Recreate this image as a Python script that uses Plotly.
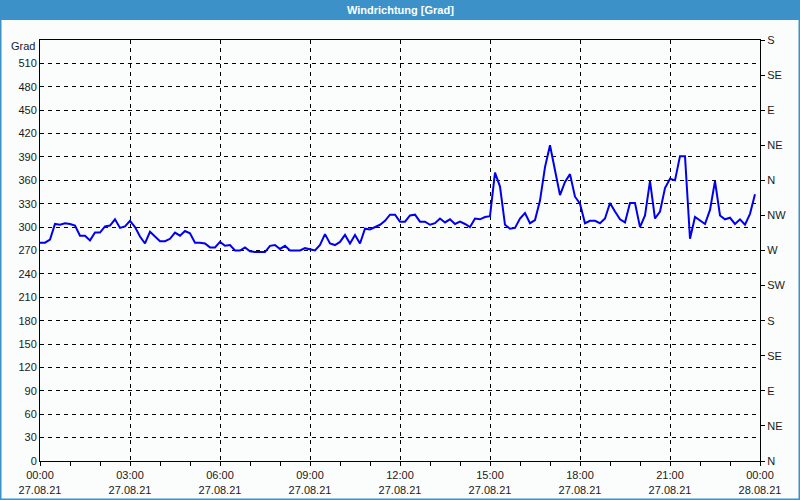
import plotly.graph_objects as go
import pandas as pd

# ---- data ----
start = "2021-08-27 00:00"
interval_min = 10
wind_dir = [
    280, 280, 284, 304, 303, 305, 304, 302, 289, 289, 283, 293,
    293, 301, 302, 310, 299, 301, 308, 300, 288, 279, 294, 288,
    282, 282, 285, 293, 289, 295, 292, 280, 280, 279, 274, 274,
    281, 276, 277, 270, 270, 274, 269, 268, 268, 268, 276, 277,
    272, 276, 270, 270, 270, 273, 271, 270, 277, 291, 279, 277,
    281, 290, 279, 290, 279, 298, 297, 300, 303, 308, 316, 316,
    307, 307, 315, 316, 307, 307, 303, 305, 311, 306, 310, 304,
    307, 304, 300, 311, 310, 313, 314, 370, 352, 303, 298, 299,
    311, 318, 305, 309, 334, 377, 405, 373, 341, 358, 368, 339,
    330, 305, 308, 308, 305, 311, 331, 320, 310, 306, 331, 331,
    300, 315, 359, 311, 320, 350, 362, 360, 391, 391, 285, 313,
    308, 304, 322, 359, 315, 310, 312, 304, 310, 303, 317, 342,
]
times = pd.date_range(start, periods=len(wind_dir), freq=f"{interval_min}min")

left_ticks = list(range(0, 511, 30))
right_tickvals = list(range(0, 541, 45))
right_ticktext = ["N", "NE", "E", "SE", "S", "SW", "W", "NW", "N", "NE", "E", "SE", "S"]
x_tickvals = pd.date_range("2021-08-27 00:00", "2021-08-28 00:00", freq="3h")
x_ticktext = [f"{t:%H:%M}<br>{t:%d.%m.%y}" for t in x_tickvals]
title_text = "Windrichtung [Grad]"
y_unit = "Grad"

# ---- figure ----
font = dict(family="Liberation Sans, DejaVu Sans, sans-serif", size=11, color="#1a1a1a")
bg = "#fbfdfc"
blue = "#3c91c8"

fig = go.Figure()
fig.add_trace(go.Scatter(x=times, y=wind_dir, mode="lines",
                         line=dict(color="#0000ee", width=2), showlegend=False))
fig.add_trace(go.Scatter(x=[times[0]], y=[None], yaxis="y2", mode="lines",
                         showlegend=False, hoverinfo="skip"))

fig.update_layout(
    width=800, height=500,
    margin=dict(l=40, r=40, t=40, b=39),
    paper_bgcolor=bg, plot_bgcolor=bg,
    font=font,
    showlegend=False,
    xaxis=dict(
        range=["2021-08-27 00:00", "2021-08-28 00:00"],
        tickvals=x_tickvals, ticktext=x_ticktext,
        ticks="outside", ticklen=4, tickcolor="black",
        showgrid=True, gridcolor="black", griddash="4px,4px", gridwidth=1,
        showline=True, linecolor="black", linewidth=1, mirror=True,
        minor=dict(dtick=3600000, ticks="outside", ticklen=4, tickcolor="black", showgrid=False),
        zeroline=False, automargin=False,
    ),
    yaxis=dict(
        range=[0, 540], tickvals=left_ticks,
        ticks="", showgrid=True, gridcolor="black", griddash="4px,4px", gridwidth=1,
        showline=True, linecolor="black", linewidth=1, mirror=True,
        zeroline=False, automargin=False,
    ),
    yaxis2=dict(
        range=[0, 540], overlaying="y", side="right",
        tickvals=right_tickvals, ticktext=right_ticktext,
        ticks="outside", ticklen=4, tickcolor="black",
        showgrid=False, showline=False, zeroline=False, automargin=False,
    ),
    shapes=[
        dict(type="rect", xref="paper", yref="paper",
             xsizemode="pixel", ysizemode="pixel", xanchor=0, yanchor=1,
             x0=-41, x1=761, y0=20, y1=41,
             fillcolor=blue, line=dict(width=0), layer="above"),
        dict(type="rect", xref="paper", yref="paper",
             xsizemode="pixel", ysizemode="pixel", xanchor=0, yanchor=0,
             x0=-39.5, x1=759.5, y0=-38.5, y1=460.5,
             fillcolor="rgba(0,0,0,0)", line=dict(color=blue, width=2), layer="above"),
    ],
    annotations=[
        dict(text=f"<b>{title_text}</b>", xref="paper", yref="paper", x=0.5, y=1,
             yshift=30, xanchor="center", yanchor="middle", showarrow=False,
             font=dict(family="Liberation Sans, DejaVu Sans, sans-serif", size=11, color="white")),
        dict(text=y_unit, xref="paper", yref="paper", x=0, y=1,
             xshift=-3, yshift=-6, xanchor="right", yanchor="middle", showarrow=False),
    ],
)

fig.write_html("out.html")
